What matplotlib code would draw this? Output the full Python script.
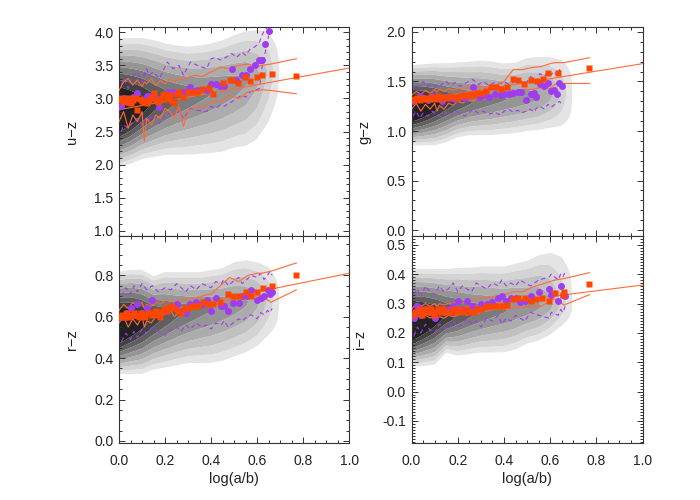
import numpy as np
import matplotlib
matplotlib.use("Agg")
import matplotlib.pyplot as plt
from matplotlib.ticker import MultipleLocator

plt.rcParams['font.family'] = ['Liberation Sans', 'DejaVu Sans']

# ---------------- data ----------------
# density-contour description (per column of log(a/b))
contour_x = [0.0, 0.05, 0.10, 0.15, 0.20, 0.25, 0.30, 0.35, 0.40, 0.45, 0.50, 0.55, 0.60, 0.65, 0.70]
contour_amp = [1.20, 1.10, 0.98, 0.86, 0.77, 0.70, 0.65, 0.61, 0.58, 0.55, 0.52, 0.48, 0.39, 0.22, 0.0]

uz_c  = [2.78, 2.82, 2.88, 2.92, 2.96, 3.00, 3.03, 3.06, 3.10, 3.15, 3.20, 3.27, 3.33, 3.40, 3.40]
uz_hi = [3.92, 3.93, 3.93, 3.90, 3.85, 3.82, 3.80, 3.82, 3.85, 3.90, 3.98, 4.04, 4.06, 4.04, 3.80]
uz_lo = [1.95, 2.00, 2.07, 2.10, 2.13, 2.13, 2.13, 2.14, 2.15, 2.17, 2.23, 2.25, 2.35, 2.60, 3.00]

gz_c  = [1.22, 1.24, 1.26, 1.27, 1.28, 1.29, 1.30, 1.31, 1.32, 1.33, 1.34, 1.35, 1.37, 1.38, 1.38]
gz_hi = [1.67, 1.68, 1.69, 1.69, 1.70, 1.71, 1.72, 1.71, 1.69, 1.70, 1.75, 1.76, 1.76, 1.74, 1.65]
gz_lo = [0.85, 0.85, 0.85, 0.88, 0.93, 0.95, 0.95, 0.95, 0.96, 0.97, 0.99, 1.00, 1.02, 1.03, 1.10]

rz_c  = [0.55, 0.57, 0.58, 0.59, 0.60, 0.61, 0.62, 0.63, 0.64, 0.65, 0.66, 0.67, 0.68, 0.69, 0.69]
rz_hi = [0.82, 0.83, 0.83, 0.80, 0.82, 0.82, 0.82, 0.82, 0.83, 0.84, 0.87, 0.88, 0.87, 0.85, 0.78]
rz_lo = [0.32, 0.32, 0.32, 0.34, 0.35, 0.36, 0.37, 0.37, 0.37, 0.38, 0.40, 0.42, 0.45, 0.50, 0.55]

iz_c  = [0.22, 0.235, 0.245, 0.25, 0.255, 0.26, 0.265, 0.27, 0.275, 0.28, 0.285, 0.29, 0.295, 0.30, 0.30]
iz_hi = [0.42, 0.42, 0.42, 0.42, 0.425, 0.425, 0.43, 0.43, 0.43, 0.44, 0.45, 0.47, 0.48, 0.47, 0.42]
iz_lo = [0.083, 0.085, 0.09, 0.13, 0.12, 0.125, 0.13, 0.13, 0.13, 0.14, 0.16, 0.17, 0.19, 0.22, 0.25]

# orange squares
uz_sq_x = [0.00,0.01,0.02,0.03,0.04, 0.05,0.06,0.07,0.08,0.09, 0.10,0.11,0.12,0.13,0.14,
           0.15,0.16,0.17,0.18,0.19, 0.20,0.21,0.22,0.23,0.24, 0.25,0.26,0.28,0.30,0.32,
           0.34,0.36,0.39,0.41,0.45, 0.48,0.49,0.515,0.545,0.57, 0.60,0.62,0.665,0.77]
uz_sq_y = [2.98,3.00,2.95,2.98,3.00, 2.93,2.97,3.01,2.83,2.99, 2.96,2.95,2.93,2.97,3.00,
           3.08,2.97,2.95,2.99,3.05, 3.07,2.99,3.05,2.96,2.93, 3.07,3.10,3.02,3.10,3.10,
           3.10,3.15,3.16,3.07,3.23, 3.28,3.28,3.23,3.32,3.26, 3.33,3.36,3.37,3.34]

gz_sq_x = [0.005,0.015,0.025,0.035,0.045, 0.055,0.065,0.075,0.085,0.095, 0.105,0.115,0.125,0.135,0.15,
           0.165,0.18,0.195,0.21,0.225, 0.24,0.255,0.27,0.285,0.30, 0.32,0.342,0.364,0.386,0.415,
           0.44,0.46,0.486,0.515,0.541, 0.569,0.591,0.633,0.766]
gz_sq_y = [1.31,1.32,1.33,1.31,1.33, 1.32,1.33,1.32,1.34,1.32, 1.33,1.35,1.32,1.34,1.33,
           1.35,1.34,1.33,1.35,1.36, 1.35,1.37,1.36,1.38,1.38, 1.40,1.44,1.44,1.42,1.44,
           1.52,1.51,1.47,1.51,1.50, 1.53,1.59,1.585,1.64]

rz_sq_x = [0.005,0.015,0.025,0.035,0.045, 0.055,0.065,0.075,0.085,0.095, 0.105,0.115,0.125,0.135,0.145,
           0.16,0.17,0.18,0.19,0.20, 0.21,0.225,0.24,0.255,0.27, 0.285,0.30,0.315,0.33,0.345,
           0.365,0.385,0.41,0.44,0.475, 0.495,0.52,0.55,0.575,0.60, 0.625,0.665,0.77]
rz_sq_y = [0.60,0.61,0.60,0.62,0.60, 0.61,0.62,0.61,0.60,0.62, 0.61,0.60,0.62,0.62,0.61,
           0.63,0.62,0.60,0.63,0.64, 0.63,0.65,0.64,0.63,0.62, 0.64,0.64,0.65,0.65,0.65,
           0.67,0.66,0.66,0.67,0.71, 0.70,0.70,0.72,0.70,0.72, 0.74,0.75,0.80]

iz_sq_x = [0.005,0.015,0.025,0.035,0.045, 0.055,0.065,0.075,0.085,0.095, 0.105,0.115,0.125,0.135,0.15,
           0.165,0.18,0.195,0.21,0.225, 0.24,0.255,0.27,0.285,0.30, 0.32,0.34,0.365,0.39,0.415,
           0.44,0.46,0.49,0.515,0.54, 0.565,0.595,0.62,0.655,0.66, 0.77]
iz_sq_y = [0.26,0.27,0.27,0.28,0.26, 0.27,0.28,0.27,0.28,0.26, 0.27,0.28,0.27,0.28,0.27,
           0.27,0.28,0.27,0.28,0.27, 0.28,0.27,0.27,0.28,0.28, 0.29,0.29,0.29,0.29,0.295,
           0.315,0.32,0.32,0.31,0.315, 0.32,0.31,0.335,0.33,0.34, 0.365]

# purple circles and their dashed upper / lower envelopes
uz_pc_x  = [0.01,0.02,0.04,0.06,0.08,0.10,0.12,0.13,0.15,0.175,0.21,0.235,0.26,0.28,0.31,0.34,
            0.38,0.40,0.42,0.44,0.455,0.49,0.51,0.535,0.55,0.57,0.59,0.61,0.615,0.62,0.635,0.65]
uz_pc_y  = [2.89,3.00,2.95,3.02,3.08,2.97,3.03,3.03,3.01,2.87,3.10,3.10,3.08,3.10,3.17,3.13,
            3.13,3.22,3.22,3.19,3.19,3.45,3.28,3.36,3.36,3.45,3.50,3.58,3.58,3.58,3.83,4.02]
uz_pc_hi = [3.20,3.30,3.15,3.35,3.40,3.25,3.45,3.35,3.40,3.30,3.55,3.45,3.50,3.35,3.55,3.50,
            3.45,3.60,3.62,3.58,3.60,3.68,3.62,3.70,3.65,3.75,3.78,3.85,3.90,3.95,4.05,4.08]
uz_pc_lo = [2.50,2.60,2.55,2.65,2.70,2.60,2.72,2.68,2.75,2.62,2.78,2.75,2.80,2.70,2.85,2.82,
            2.80,2.88,2.85,2.90,2.88,2.95,3.00,3.05,3.02,3.10,3.12,3.15,3.30,3.45,3.70,3.95]

gz_pc_x  = [0.005,0.02,0.035,0.05,0.07,0.09,0.11,0.13,0.15,0.17,0.19,0.21,0.23,0.265,0.29,0.31,0.335,0.36,
            0.385,0.40,0.42,0.44,0.46,0.475,0.495,0.515,0.53,0.54,0.555,0.575,0.59,0.605,0.615,0.63,0.64,0.65]
gz_pc_y  = [1.30,1.32,1.35,1.33,1.31,1.35,1.33,1.30,1.34,1.33,1.32,1.34,1.33,1.44,1.34,1.36,1.34,1.37,
            1.36,1.37,1.37,1.38,1.39,1.39,1.31,1.37,1.38,1.34,1.47,1.45,1.48,1.40,1.41,1.37,1.48,1.45]
gz_pc_hi = [1.42,1.47,1.44,1.50,1.45,1.48,1.44,1.47,1.50,1.46,1.49,1.45,1.48,1.52,1.47,1.50,1.46,1.49,
            1.48,1.50,1.47,1.49,1.52,1.50,1.48,1.55,1.52,1.50,1.58,1.55,1.60,1.57,1.60,1.56,1.62,1.58]
gz_pc_lo = [1.15,1.20,1.13,1.18,1.15,1.20,1.16,1.14,1.19,1.17,1.21,1.18,1.15,1.22,1.18,1.20,1.17,1.19,
            1.16,1.20,1.22,1.19,1.21,1.18,1.20,1.22,1.19,1.23,1.25,1.22,1.27,1.24,1.26,1.28,1.30,1.27]

rz_pc_x  = [0.01,0.03,0.05,0.065,0.08,0.10,0.12,0.145,0.17,0.20,0.225,0.25,0.27,0.29,0.31,0.335,0.36,
            0.38,0.40,0.42,0.445,0.455,0.475,0.495,0.52,0.535,0.555,0.573,0.60,0.615,0.63,0.645,0.655,0.665]
rz_pc_y  = [0.60,0.62,0.64,0.61,0.66,0.62,0.64,0.68,0.62,0.63,0.65,0.66,0.63,0.62,0.66,0.67,0.66,
            0.68,0.63,0.69,0.65,0.65,0.63,0.665,0.665,0.70,0.70,0.73,0.68,0.69,0.70,0.73,0.71,0.72]
rz_pc_hi = [0.70,0.74,0.71,0.75,0.72,0.76,0.73,0.75,0.72,0.74,0.73,0.76,0.74,0.72,0.75,0.73,0.76,
            0.75,0.74,0.77,0.76,0.78,0.75,0.77,0.79,0.76,0.78,0.80,0.79,0.81,0.78,0.80,0.82,0.80]
rz_pc_lo = [0.48,0.52,0.49,0.53,0.50,0.54,0.52,0.55,0.53,0.51,0.54,0.55,0.53,0.56,0.54,0.57,0.55,
            0.56,0.54,0.57,0.56,0.58,0.55,0.57,0.59,0.58,0.60,0.61,0.59,0.62,0.61,0.63,0.62,0.64]

iz_pc_x  = [0.01,0.025,0.04,0.06,0.08,0.10,0.12,0.14,0.16,0.18,0.20,0.22,0.24,0.26,0.28,0.30,0.325,
            0.35,0.375,0.39,0.41,0.43,0.45,0.47,0.49,0.515,0.55,0.595,0.605,0.635,0.645,0.655,0.665]
iz_pc_y  = [0.25,0.29,0.26,0.28,0.27,0.25,0.28,0.27,0.28,0.29,0.31,0.28,0.31,0.29,0.28,0.30,0.30,
            0.305,0.32,0.325,0.31,0.32,0.32,0.305,0.31,0.327,0.34,0.35,0.33,0.31,0.36,0.33,0.325]
iz_pc_hi = [0.33,0.35,0.32,0.36,0.34,0.33,0.36,0.34,0.35,0.37,0.34,0.36,0.35,0.34,0.37,0.36,0.35,
            0.37,0.36,0.38,0.36,0.37,0.36,0.38,0.37,0.36,0.38,0.39,0.40,0.38,0.40,0.39,0.41]
iz_pc_lo = [0.19,0.22,0.20,0.23,0.21,0.20,0.23,0.22,0.21,0.24,0.22,0.23,0.25,0.23,0.24,0.22,0.25,
            0.24,0.26,0.23,0.25,0.24,0.26,0.25,0.24,0.27,0.26,0.25,0.27,0.26,0.28,0.27,0.29]

# orange running upper / lower lines
line_x = [0.0,0.02,0.04,0.06,0.08,0.10,0.11,0.12,0.14,0.16,0.18,0.20,0.22,0.24,0.26,0.28,0.30,
          0.33,0.36,0.40,0.44,0.48,0.52,0.56,0.60,0.62,0.66,0.77]
uz_ln_hi = [3.12,3.25,3.30,3.20,3.28,3.18,3.25,3.22,3.30,3.20,3.27,3.22,3.30,3.25,3.30,3.28,3.32,
            3.35,3.33,3.40,3.47,3.45,3.50,3.52,3.48,3.50,3.52,3.60]
uz_ln_lo = [2.65,2.80,2.55,2.75,2.65,2.80,2.35,2.70,2.60,2.75,2.70,2.85,2.80,2.70,2.88,2.58,2.80,
            2.88,2.85,2.95,2.95,3.05,3.00,3.10,3.12,3.13,3.12,3.07]
gz_ln_hi = [1.36,1.40,1.37,1.41,1.38,1.42,1.39,1.42,1.40,1.43,1.41,1.43,1.42,1.44,1.43,1.44,1.45,
            1.44,1.46,1.50,1.62,1.62,1.64,1.65,1.68,1.69,1.69,1.74]
gz_ln_lo = [1.22,1.28,1.20,1.27,1.22,1.28,1.20,1.26,1.22,1.28,1.26,1.30,1.28,1.31,1.30,1.32,1.32,
            1.33,1.34,1.36,1.38,1.42,1.42,1.44,1.43,1.47,1.48,1.48]
rz_ln_hi = [0.63,0.66,0.64,0.67,0.65,0.67,0.64,0.66,0.65,0.67,0.66,0.68,0.68,0.67,0.68,0.68,0.69,
            0.69,0.70,0.71,0.75,0.79,0.77,0.80,0.81,0.81,0.82,0.86]
rz_ln_lo = [0.57,0.60,0.55,0.59,0.56,0.60,0.55,0.58,0.57,0.60,0.59,0.62,0.64,0.60,0.62,0.61,0.63,
            0.64,0.65,0.66,0.66,0.68,0.68,0.70,0.70,0.70,0.67,0.73]
iz_ln_hi = [0.28,0.30,0.29,0.30,0.29,0.30,0.29,0.30,0.295,0.30,0.30,0.31,0.30,0.31,0.31,0.315,0.32,
            0.32,0.325,0.33,0.34,0.34,0.355,0.365,0.375,0.38,0.385,0.405]
iz_ln_lo = [0.25,0.26,0.25,0.26,0.25,0.26,0.245,0.255,0.25,0.26,0.255,0.26,0.265,0.26,0.265,0.265,0.27,
            0.275,0.28,0.28,0.285,0.29,0.29,0.29,0.31,0.315,0.295,0.33]

# straight fit lines (values at log(a/b)=0 and 1)
fit_x = [0.0, 1.0]
uz_fit = [2.83, 3.46]
gz_fit = [1.30, 1.68]
rz_fit = [0.585, 0.81]
iz_fit = [0.265, 0.363]

panel_labels = ['u\u2212z', 'g\u2212z', 'r\u2212z', 'i\u2212z']
panel_ylims = [(0.92, 4.08), (-0.06, 2.05), (-0.01, 0.99), (-0.175, 0.53)]
panel_major = [0.5, 0.5, 0.2, 0.1]
panel_minor = [0.1, 0.1, 0.05, 0.01]

# ---------------- plotting ----------------
gray_levels = [0.02, 0.13, 0.24, 0.35, 0.46, 0.57, 0.68, 0.79, 0.90, 5.0]
gray_colors = ['#e4e4e4', '#d3d3d3', '#c1c1c1', '#acacac', '#959595',
               '#7b7b7b', '#5f5f5f', '#414141', '#222222']
ORANGE = '#ff4600'
ORANGE_LINE = '#ff6a3a'
PURPLE = '#a03cf0'

fig = plt.figure(figsize=(7, 5), dpi=100)
positions = [[0.170, 0.528, 0.329, 0.418], [0.588, 0.528, 0.330, 0.418],
             [0.170, 0.114, 0.329, 0.414], [0.588, 0.114, 0.330, 0.414]]

contours = [(uz_c, uz_hi, uz_lo), (gz_c, gz_hi, gz_lo), (rz_c, rz_hi, rz_lo), (iz_c, iz_hi, iz_lo)]
squares = [(uz_sq_x, uz_sq_y), (gz_sq_x, gz_sq_y), (rz_sq_x, rz_sq_y), (iz_sq_x, iz_sq_y)]
circles = [(uz_pc_x, uz_pc_y, uz_pc_hi, uz_pc_lo), (gz_pc_x, gz_pc_y, gz_pc_hi, gz_pc_lo),
           (rz_pc_x, rz_pc_y, rz_pc_hi, rz_pc_lo), (iz_pc_x, iz_pc_y, iz_pc_hi, iz_pc_lo)]
runlines = [(uz_ln_hi, uz_ln_lo), (gz_ln_hi, gz_ln_lo), (rz_ln_hi, rz_ln_lo), (iz_ln_hi, iz_ln_lo)]
fits = [uz_fit, gz_fit, rz_fit, iz_fit]

for k in range(4):
    ax = fig.add_axes(positions[k])
    ylo, yhi = panel_ylims[k]
    # density field
    xg = np.linspace(0, 0.75, 301)
    yg = np.linspace(ylo, yhi, 500)
    c, hi, lo = contours[k]
    X, Y = np.meshgrid(xg, yg)
    C = np.interp(xg, contour_x, c)[None, :]
    H = np.interp(xg, contour_x, hi)[None, :]
    L = np.interp(xg, contour_x, lo)[None, :]
    A = np.interp(xg, contour_x, contour_amp, right=0.0)[None, :]
    d = np.where(Y >= C, (Y - C) / (H - C), (C - Y) / (C - L))
    Z = A * (1.0 - np.clip(d, 0, None) ** 1.3)
    ax.contourf(X, Y, Z, levels=gray_levels, colors=gray_colors, zorder=1, antialiased=True)

    px, py, phi, plo = circles[k]
    ax.plot(px, phi, color=PURPLE, lw=0.8, dashes=(4, 3), zorder=2)
    ax.plot(px, plo, color=PURPLE, lw=0.8, dashes=(4, 3), zorder=2)
    lhi, llo = runlines[k]
    ax.plot(line_x, lhi, color=ORANGE_LINE, lw=0.8, zorder=3)
    ax.plot(line_x, llo, color=ORANGE_LINE, lw=0.8, zorder=3)
    ax.plot(fit_x, fits[k], color=ORANGE_LINE, lw=0.8, zorder=3)
    ax.plot(px, py, 'o', color=PURPLE, ms=5, mec='none', zorder=4)
    sx, sy = squares[k]
    ax.plot(sx, sy, 's', color=ORANGE, ms=4.9, mec='none', zorder=5)

    ax.set_xlim(0, 1)
    ax.set_ylim(ylo, yhi)
    ax.xaxis.set_major_locator(MultipleLocator(0.2))
    ax.xaxis.set_minor_locator(MultipleLocator(0.05))
    ax.yaxis.set_major_locator(MultipleLocator(panel_major[k]))
    ax.yaxis.set_minor_locator(MultipleLocator(panel_minor[k]))
    ax.tick_params(which='both', direction='in', top=True, right=True, color='#333333',
                   labelcolor='#222222', labelsize=10, width=0.7)
    ax.tick_params(which='major', length=4.5)
    ax.tick_params(which='minor', length=2.3)
    ax.tick_params(axis='y', pad=4)
    ax.tick_params(axis='x', pad=8)
    for s in ax.spines.values():
        s.set_linewidth(0.8)
        s.set_color('#333333')
    ax.yaxis.set_major_formatter(matplotlib.ticker.FormatStrFormatter('%.1f'))
    ax.xaxis.set_major_formatter(matplotlib.ticker.FormatStrFormatter('%.1f'))
    ax.set_ylabel(panel_labels[k], fontsize=10.5, color='#222222', labelpad=11)
    if k < 2:
        ax.tick_params(axis='x', labelbottom=False)
    else:
        ax.set_xlabel('log(a/b)', fontsize=10.5, color='#222222', labelpad=3)

fig.savefig('out.png', dpi=100)
